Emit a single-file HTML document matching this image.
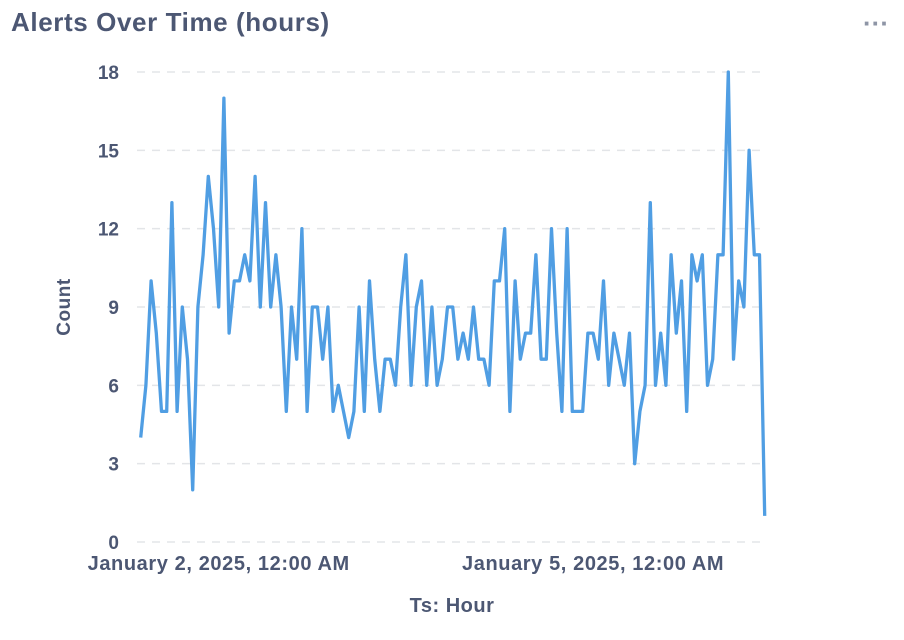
<!DOCTYPE html>
<html><head><meta charset="utf-8"><style>
body{margin:0;background:#fff;font-family:"Liberation Sans",sans-serif;}
#wrap{position:relative;width:904px;height:640px;overflow:hidden}
.t{position:absolute;color:#4c5773;font-weight:bold}
</style></head><body>
<div id="wrap">
<div class="t" style="left:11px;top:7px;font-size:26px;letter-spacing:0.6px;color:#4c5773">Alerts Over Time (hours)</div>
<div style="position:absolute;left:863px;top:8px;font-size:26px;font-weight:bold;color:#8e95a6;letter-spacing:0px">···</div>
<svg id="chart" width="904" height="640" style="position:absolute;left:0;top:0"></svg>
</div>
<script>
const values=[4,6,10,8,5,5,13,5,9,7,2,9,11,14,12,9,17,8,10,10,11,10,14,9,13,9,11,9,5,9,7,12,5,9,9,7,9,5,6,5,4,
5,9,5,10,7,5,7,7,6,9,11,6,9,10,6,9,6,7,9,9,7,8,7,9,7,7,6,10,10,12,5,10,7,8,8,11,7,7,12,8,
5,12,5,5,5,8,8,7,10,6,8,7,6,8,3,5,6,13,6,8,6,11,8,10,5,11,10,11,6,7,11,11,18,7,10,9,15,11,11,1];
const yTicks=[0,3,6,9,12,15,18];
const xLabelIdx=[15,87];
const xLabels=["January 2, 2025, 12:00 AM","January 5, 2025, 12:00 AM"];
const svg=document.getElementById('chart');const NS='http://www.w3.org/2000/svg';
const x0=140.7,x1=764.7,yb=542,yt=72,ymax=18;
const X=i=>x0+(x1-x0)*i/(values.length-1);
const Y=v=>yb-(yb-yt)*v/ymax;
function mk(t,a){const e=document.createElementNS(NS,t);for(const k in a)e.setAttribute(k,a[k]);svg.appendChild(e);return e;}
yTicks.forEach(v=>{
 const g=mk('line',{x1:137,x2:766,y1:Y(v),y2:Y(v),stroke:'#e3e5e8','stroke-dasharray':'8,7','stroke-width':1.5});
 
 
 const t=mk('text',{x:119,y:Y(v)+7,'text-anchor':'end','font-size':19,'font-weight':'bold',fill:'#4c5773','font-family':'Liberation Sans, sans-serif'});
 t.textContent=v;
 
 
});
xLabelIdx.forEach((idx,k)=>{
 const t=mk('text',{x:X(idx),y:570,'text-anchor':'middle','font-size':20,'letter-spacing':0.6,'font-weight':'bold',fill:'#4c5773','font-family':'Liberation Sans, sans-serif'});
 t.textContent=xLabels[k];
 
 
});
const p=mk('path',{d:values.map((v,i)=>(i?'L':'M')+X(i).toFixed(1)+','+Y(v).toFixed(1)).join(''),fill:'none',stroke:'#509ee3','stroke-width':3.3,'stroke-linejoin':'round'});


const yt2=mk('text',{x:0,y:0,transform:'translate(70,307) rotate(-90)','text-anchor':'middle','font-size':19,'letter-spacing':0.5,'font-weight':'bold',fill:'#4c5773','font-family':'Liberation Sans, sans-serif'});
yt2.textContent='Count';


const xt=mk('text',{x:452,y:612,'text-anchor':'middle','font-size':20,'letter-spacing':0.5,'font-weight':'bold',fill:'#4c5773','font-family':'Liberation Sans, sans-serif'});
xt.textContent='Ts: Hour';


</script>
</body></html>
